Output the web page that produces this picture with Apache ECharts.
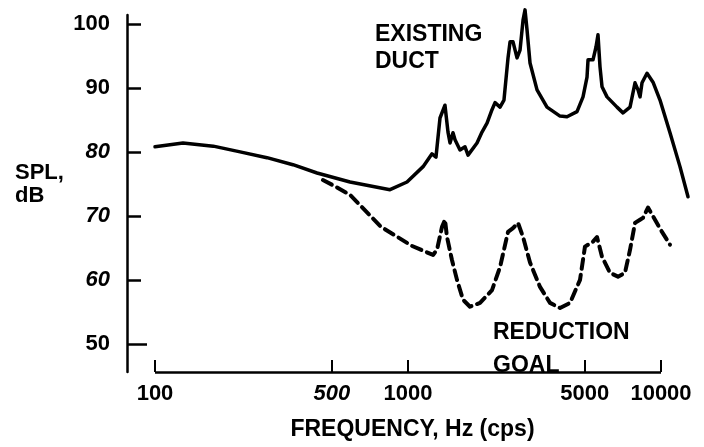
<!DOCTYPE html>
<html><head><meta charset="utf-8">
<script src="https://cdn.jsdelivr.net/npm/echarts@6/dist/echarts.min.js"></script>
<style>html,body{margin:0;padding:0;background:#fff}#c{width:704px;height:447px}</style>
</head><body><div id="c"></div>
<script>
// Existing duct SPL (solid)
const freqExisting = [100, 129, 170, 217, 277, 351, 437, 590, 849, 991, 1147, 1244, 1290, 1338, 1400, 1439, 1466, 1506, 1534, 1605, 1680, 1727, 1874, 1961, 2053, 2148, 2208, 2311, 2395, 2485, 2531, 2601, 2697, 2772, 2849, 2901, 2954, 3036, 3236, 3543, 3989, 4251, 4656, 4918, 5100, 5147, 5385, 5535, 5636, 5740, 5846, 6118, 6700, 7076, 7543, 7894, 8113, 8261, 8414, 8805, 9299, 9909, 10853, 11886, 12786];
const splExisting = [80.8, 81.4, 80.9, 80.0, 79.1, 78.0, 76.7, 75.3, 74.1, 75.3, 77.7, 79.7, 79.2, 85.3, 87.3, 83.1, 81.4, 83.0, 81.9, 80.3, 80.8, 79.5, 81.4, 83.1, 84.5, 86.6, 87.7, 87.0, 88.1, 94.7, 97.2, 97.2, 94.7, 95.9, 100.6, 102.2, 99.1, 93.9, 89.7, 87.0, 85.6, 85.5, 86.3, 88.6, 91.7, 94.4, 94.4, 96.4, 98.3, 93.3, 90.2, 88.6, 87.0, 86.1, 87.0, 90.8, 89.7, 88.6, 90.8, 92.3, 90.9, 88.1, 83.0, 77.7, 73.0];
// Reduction goal SPL (dashed)
const freqGoal = [461, 505, 590, 782, 1037, 1256, 1302, 1363, 1400, 1426, 1492, 1562, 1650, 1758, 1926, 2148, 2311, 2485, 2601, 2722, 2849, 3036, 3325, 3642, 3989, 4370, 4785, 5006, 5147, 5338, 5585, 5846, 6288, 6761, 7204, 7543, 7894, 8261, 8490, 8884, 9469, 10092, 10853];
const splGoal = [75.6, 74.8, 73.3, 68.3, 65.3, 63.9, 64.7, 68.3, 69.4, 66.7, 63.1, 60.0, 56.9, 55.8, 56.4, 58.4, 62.0, 67.5, 68.1, 68.9, 66.7, 62.7, 58.9, 56.4, 55.6, 56.4, 60.0, 65.2, 65.5, 65.8, 66.7, 63.6, 61.1, 60.5, 61.1, 64.7, 68.9, 69.4, 69.7, 71.3, 69.4, 67.5, 65.5];

const xTickValues = [100, 500, 1000, 5000, 10000];
const xItalicTicks = [500];
const yTickValues = [50, 60, 70, 80, 90, 100];
const yItalicTicks = [60, 70, 80];

const X_MIN = 100, X_AXIS_END = 10000, X_MAX = 13020;
const Y_MIN = 45.6, Y_MAX = 101.4;

const FONT = "'Liberation Sans', Arial, sans-serif";
const chart = echarts.init(document.getElementById('c'), null, {renderer: 'canvas'});

function fmt(italics) {
  return function (v) {
    const r = Math.round(v);
    return (italics.indexOf(r) >= 0 ? '{i|' : '{n|') + r + '}';
  };
}
const richLabels = {
  n: {fontFamily: FONT, fontWeight: 'bold', fontSize: 22, color: '#000'},
  i: {fontFamily: FONT, fontWeight: 'bold', fontStyle: 'italic', fontSize: 22, color: '#000'}
};

chart.setOption({
  animation: false,
  backgroundColor: '#fff',
  grid: {left: 155, right: 14, top: 15, bottom: 75},
  xAxis: {
    type: 'log', logBase: 10, min: X_MIN, max: X_MAX,
    name: 'FREQUENCY, Hz (cps)', nameLocation: 'middle', nameGap: 46,
    nameTextStyle: {fontFamily: FONT, fontWeight: 'bold', fontSize: 23, color: '#000', padding: [0, 20, 0, 0]},
    axisLine: {show: false},
    axisTick: {show: true, inside: true, length: 12, customValues: xTickValues, lineStyle: {color: '#000', width: 2}},
    axisLabel: {show: true, margin: 11, customValues: xTickValues, formatter: fmt(xItalicTicks), rich: richLabels},
    splitLine: {show: false}, minorTick: {show: false}, minorSplitLine: {show: false}
  },
  yAxis: [{
    type: 'value', min: Y_MIN, max: Y_MAX, offset: 28,
    axisLine: {show: true, lineStyle: {color: '#000', width: 2.5}},
    axisTick: {show: true, inside: true, length: 14, customValues: yTickValues.filter(v => v !== 50), lineStyle: {color: '#000', width: 2.5}},
    axisLabel: {show: true, margin: 17, customValues: yTickValues, formatter: fmt(yItalicTicks), rich: richLabels},
    splitLine: {show: false}
  }, {
    type: 'value', min: Y_MIN, max: Y_MAX, offset: 28, position: 'left',
    axisLine: {show: false},
    axisTick: {show: true, inside: true, length: 20, customValues: [50], lineStyle: {color: '#000', width: 2.5}},
    axisLabel: {show: false},
    splitLine: {show: false}
  }],
  series: [{
    name: 'EXISTING DUCT', type: 'line', clip: false, symbol: 'none',
    data: freqExisting.map((f, i) => [f, splExisting[i]]),
    lineStyle: {color: '#000', width: 3.5, join: 'round', cap: 'round'},
    markLine: {
      silent: true, symbol: 'none', label: {show: false}, animation: false,
      lineStyle: {color: '#000', width: 2.5, type: 'solid'},
      data: [[{coord: [X_MIN, Y_MIN]}, {coord: [X_AXIS_END, Y_MIN]}]]
    }
  }, {
    name: 'REDUCTION GOAL', type: 'line', clip: false, symbol: 'none',
    data: freqGoal.map((f, i) => [f, splGoal[i]]),
    lineStyle: {color: '#000', width: 4, type: [10, 6], cap: 'round', join: 'round'}
  }],
  graphic: [
    {type: 'text', left: 15, top: 161, style: {text: 'SPL,\ndB', font: 'bold 22px ' + FONT, fill: '#000', lineHeight: 23}},
    {type: 'text', left: 375, top: 21, style: {text: 'EXISTING\nDUCT', font: 'bold 23px ' + FONT, fill: '#000', lineHeight: 27}},
    {type: 'text', left: 493, top: 316, style: {text: 'REDUCTION\nGOAL', font: 'bold 23px ' + FONT, fill: '#000', lineHeight: 33}}
  ]
});
</script></body></html>
